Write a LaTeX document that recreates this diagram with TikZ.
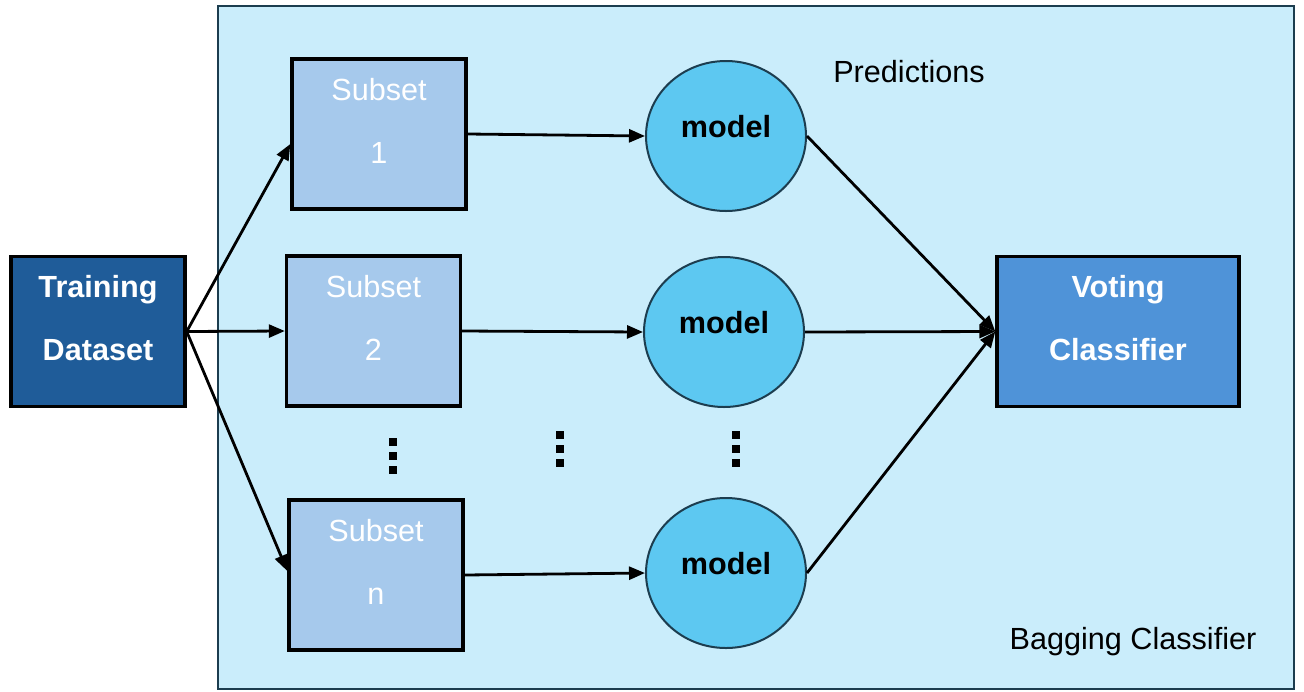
\documentclass[tikz,border=0pt]{standalone}
\usepackage{fontspec}
\setmainfont{Liberation Sans}
\usetikzlibrary{arrows.meta,shapes.geometric}
\definecolor{bagfill}{HTML}{CAEDFB}
\definecolor{bagline}{HTML}{1C3D4F}
\definecolor{trainfill}{HTML}{1F5C99}
\definecolor{subfill}{HTML}{A6C9EC}
\definecolor{modelfill}{HTML}{5DC8F1}
\definecolor{votefill}{HTML}{4F93D8}
\begin{document}
\begin{tikzpicture}[x = 0.5pt, y = -0.5pt,
        box/.style = {draw = black, line width = 1.7pt, rectangle, inner sep = 0pt,
            minimum width = 87pt, align = center, text height = 52pt, text depth = 23pt,
            text = white, font = \fontsize{15.3}{31.5}\selectfont},
        model/.style = {draw = bagline, line width = 1pt, ellipse, fill = modelfill, inner sep = 0pt,
            minimum width = 80pt, minimum height = 75pt, text height = 11pt, text depth = 10pt,
            font = \fontsize{15.3}{18}\selectfont\bfseries},
        arr/.style = {-{Triangle[length = 8pt, width = 6.5pt]}, line width = 1.4pt}]
    \useasboundingbox (0,0) rectangle (1304,691);
    \filldraw[bagline, fill = bagfill, line width = 1pt] (218,6) rectangle (1294,689);
    \node[box, fill = trainfill, font = \fontsize{15.3}{31.5}\selectfont\bfseries] (train) at (98,331.5) {Training\\Dataset};
    \node[box, fill = subfill] (sub1) at (379,134) {Subset\\1};
    \node[box, fill = subfill] (sub2) at (373.5,331) {Subset\\2};
    \node[box, fill = subfill] (subn) at (376,575) {Subset\\n};
    \node[model] (m1) at (726,136) {model};
    \node[model] (m2) at (724,332) {model};
    \node[model] (mn) at (726,573) {model};
    \node[box, fill = votefill, minimum width = 121pt, font = \fontsize{15.3}{31.5}\selectfont\bfseries] (vote) at (1118,331.5) {Voting\\Classifier};
    \node[font = \fontsize{15.3}{18}\selectfont] (pred) at (909,72) {Predictions};
    \node[font = \fontsize{15.3}{18}\selectfont] (bag) at (1133,642) {Bagging Classifier};
    \foreach \x/\y in {393/442, 560/435, 736/435}
        \foreach \k in {0,1,2}
            \fill[black] (\x-4,\y+14*\k-4) rectangle (\x+4,\y+14*\k+4);
    \draw[arr] (train.east) -- ([yshift = -5pt]sub1.west);
    \draw[arr] (train.east) -- (sub2.west);
    \draw[arr] (train.east) -- ([yshift = 2pt]subn.west);
    \draw[arr] (sub1.east) -- (m1.west);
    \draw[arr] (sub2.east) -- (m2.west);
    \draw[arr] (subn.east) -- (mn.west);
    \draw[arr] (m1.east) -- (vote.west);
    \draw[arr] (m2.east) -- (vote.west);
    \draw[arr] (mn.east) -- (vote.west);
\end{tikzpicture}
\end{document}
